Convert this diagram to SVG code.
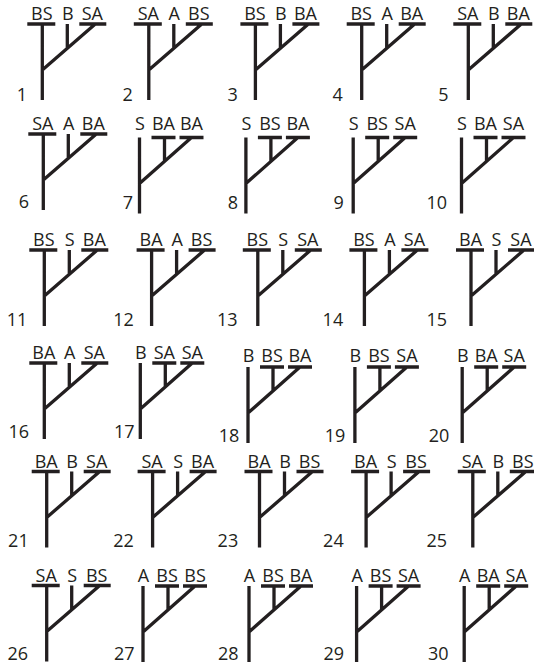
<svg xmlns="http://www.w3.org/2000/svg" xmlns:xlink="http://www.w3.org/1999/xlink" width="534" height="667" viewBox="0 0 534 667">
<style>
.ln{stroke:#231f20;stroke-width:3.3;fill:none;stroke-linecap:butt}
text{font-family:"Open Sans","Noto Sans","Liberation Sans",sans-serif;font-size:18px;fill:#231f20;text-anchor:middle}
.num{font-size:18px}
</style>
<defs>
<path id="typeA" class="ln" d="M-15,0H13M0,0V76M37,0H64M0,46L53,0M25,0V24.3"/>
<path id="typeB" class="ln" d="M0,0V76M12,0H36M40,0H64M0,46L52,0M25,0V23.9"/>
</defs>
<rect width="534" height="667" fill="#ffffff"/>

<g id="tree1" transform="translate(42.3,24)"><use xlink:href="#typeA"/><text x="-0.5" y="-4">BS</text><text x="25.5" y="-4">B</text><text x="50" y="-4">SA</text></g>
<g id="tree2" transform="translate(148.8,24)"><use xlink:href="#typeA"/><text x="-0.5" y="-4">SA</text><text x="25.5" y="-4">A</text><text x="50" y="-4">BS</text></g>
<g id="tree3" transform="translate(255.4,24)"><use xlink:href="#typeA"/><text x="-0.5" y="-4">BS</text><text x="25.5" y="-4">B</text><text x="50" y="-4">BA</text></g>
<g id="tree4" transform="translate(361.7,24)"><use xlink:href="#typeA"/><text x="-0.5" y="-4">BS</text><text x="25.5" y="-4">A</text><text x="50" y="-4">BA</text></g>
<g id="tree5" transform="translate(468.3,24)"><use xlink:href="#typeA"/><text x="-0.5" y="-4">SA</text><text x="25.5" y="-4">B</text><text x="50" y="-4">BA</text></g>

<g id="tree6" transform="translate(43.3,134)"><use xlink:href="#typeA"/><text x="-0.5" y="-4.5">SA</text><text x="25.5" y="-4.5">A</text><text x="50" y="-4.5">BA</text></g>
<g id="tree7" transform="translate(139.5,137.5)"><use xlink:href="#typeB"/><text x="0.5" y="-8">S</text><text x="24" y="-8">BA</text><text x="52" y="-8">BA</text></g>
<g id="tree8" transform="translate(245.9,137.5)"><use xlink:href="#typeB"/><text x="0.5" y="-8">S</text><text x="24" y="-8">BS</text><text x="52" y="-8">BA</text></g>
<g id="tree9" transform="translate(353.2,137.5)"><use xlink:href="#typeB"/><text x="0.5" y="-8">S</text><text x="24" y="-8">BS</text><text x="52" y="-8">SA</text></g>
<g id="tree10" transform="translate(461.5,137.5)"><use xlink:href="#typeB"/><text x="0.5" y="-8">S</text><text x="24" y="-8">BA</text><text x="52" y="-8">SA</text></g>

<g id="tree11" transform="translate(44.3,250)"><use xlink:href="#typeA"/><text x="-0.5" y="-4">BS</text><text x="25.5" y="-4">S</text><text x="50" y="-4">BA</text></g>
<g id="tree12" transform="translate(151.6,250)"><use xlink:href="#typeA"/><text x="-0.5" y="-4">BA</text><text x="25.5" y="-4">A</text><text x="50" y="-4">BS</text></g>
<g id="tree13" transform="translate(257.8,250)"><use xlink:href="#typeA"/><text x="-0.5" y="-4">BS</text><text x="25.5" y="-4">S</text><text x="50" y="-4">SA</text></g>
<g id="tree14" transform="translate(364.4,250)"><use xlink:href="#typeA"/><text x="-0.5" y="-4">BS</text><text x="25.5" y="-4">A</text><text x="50" y="-4">SA</text></g>
<g id="tree15" transform="translate(471,250)"><use xlink:href="#typeA"/><text x="-0.5" y="-4">BA</text><text x="25.5" y="-4">S</text><text x="50" y="-4">SA</text></g>

<g id="tree16" transform="translate(44.3,363)"><use xlink:href="#typeA"/><text x="-0.5" y="-4.5">BA</text><text x="25.5" y="-4.5">A</text><text x="50" y="-4.5">SA</text></g>
<g id="tree17" transform="translate(140.3,363)"><use xlink:href="#typeB"/><text x="0.5" y="-4.5">B</text><text x="24" y="-4.5">SA</text><text x="52" y="-4.5">SA</text></g>
<g id="tree18" transform="translate(248,367)"><use xlink:href="#typeB"/><text x="0.5" y="-5.5">B</text><text x="24" y="-5.5">BS</text><text x="52" y="-5.5">BA</text></g>
<g id="tree19" transform="translate(354.9,367)"><use xlink:href="#typeB"/><text x="0.5" y="-5.5">B</text><text x="24" y="-5.5">BS</text><text x="52" y="-5.5">SA</text></g>
<g id="tree20" transform="translate(462.2,367)"><use xlink:href="#typeB"/><text x="0.5" y="-5.5">B</text><text x="24" y="-5.5">BA</text><text x="52" y="-5.5">SA</text></g>

<g id="tree21" transform="translate(46.7,471.5)"><use xlink:href="#typeA"/><text x="-0.5" y="-4">BA</text><text x="25.5" y="-4">B</text><text x="50" y="-4">SA</text></g>
<g id="tree22" transform="translate(152.6,471.5)"><use xlink:href="#typeA"/><text x="-0.5" y="-4">SA</text><text x="25.5" y="-4">S</text><text x="50" y="-4">BA</text></g>
<g id="tree23" transform="translate(259.5,471.5)"><use xlink:href="#typeA"/><text x="-0.5" y="-4">BA</text><text x="25.5" y="-4">B</text><text x="50" y="-4">BS</text></g>
<g id="tree24" transform="translate(366.1,471.5)"><use xlink:href="#typeA"/><text x="-0.5" y="-4">BA</text><text x="25.5" y="-4">S</text><text x="50" y="-4">BS</text></g>
<g id="tree25" transform="translate(472.8,471.5)"><use xlink:href="#typeA"/><text x="-0.5" y="-4">SA</text><text x="25.5" y="-4">B</text><text x="50" y="-4">BS</text></g>

<g id="tree26" transform="translate(46.7,585.5)"><use xlink:href="#typeA"/><text x="-0.5" y="-4">SA</text><text x="25.5" y="-4">S</text><text x="50" y="-4">BS</text></g>
<g id="tree27" transform="translate(143,586)"><use xlink:href="#typeB"/><text x="0.5" y="-4.5">A</text><text x="24" y="-4.5">BS</text><text x="52" y="-4.5">BS</text></g>
<g id="tree28" transform="translate(249,586)"><use xlink:href="#typeB"/><text x="0.5" y="-4.5">A</text><text x="24" y="-4.5">BS</text><text x="52" y="-4.5">BA</text></g>
<g id="tree29" transform="translate(356.6,586)"><use xlink:href="#typeB"/><text x="0.5" y="-4.5">A</text><text x="24" y="-4.5">BS</text><text x="52" y="-4.5">SA</text></g>
<g id="tree30" transform="translate(464.2,586)"><use xlink:href="#typeB"/><text x="0.5" y="-4.5">A</text><text x="24" y="-4.5">BA</text><text x="52" y="-4.5">SA</text></g>

<g id="numbers" class="num">
<text x="22" y="101">1</text><text x="127.7" y="101">2</text><text x="232.6" y="101">3</text><text x="337.7" y="101">4</text><text x="443.3" y="101">5</text>
<text x="23.9" y="208">6</text><text x="128" y="208.5">7</text><text x="233" y="208.5">8</text><text x="338.6" y="208.5">9</text><text x="436.8" y="208.5">10</text>
<text x="17" y="326">11</text><text x="123.5" y="326">12</text><text x="227.3" y="326">13</text><text x="332.9" y="326">14</text><text x="436.8" y="326">15</text>
<text x="18.7" y="437.5">16</text><text x="124.3" y="437.5">17</text><text x="229" y="442">18</text><text x="335.1" y="442">19</text><text x="439" y="442">20</text>
<text x="18.4" y="547">21</text><text x="123.5" y="547">22</text><text x="227.9" y="547">23</text><text x="333.4" y="547">24</text><text x="436.8" y="547">25</text>
<text x="17.8" y="660">26</text><text x="124.3" y="660">27</text><text x="228.3" y="660">28</text><text x="333.8" y="660">29</text><text x="438.2" y="660">30</text>
</g>
</svg>
